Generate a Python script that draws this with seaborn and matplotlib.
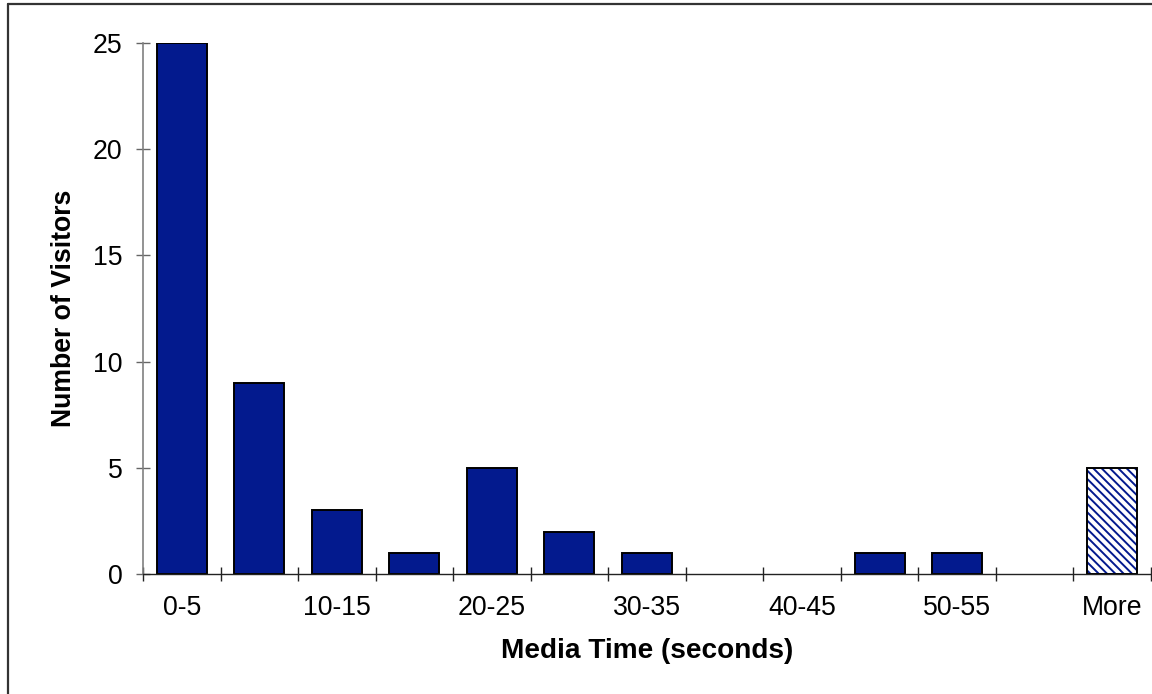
import numpy as np
import matplotlib
matplotlib.use("Agg")
import matplotlib.pyplot as plt
from matplotlib.patches import Rectangle
from matplotlib.lines import Line2D
import seaborn as sns

bins = ['0-5', '5-10', '10-15', '15-20', '20-25', '25-30', '30-35',
        '35-40', '40-45', '45-50', '50-55', '55-60', 'More']
counts = [25, 9, 3, 1, 5, 2, 1, 0, 0, 1, 1, 0, 5]
shown_labels = bins[::2]
yticks = [0, 5, 10, 15, 20, 25]

sns.set_theme(style="white")
plt.rcParams['font.family'] = ['Liberation Sans', 'DejaVu Sans']
plt.rcParams['hatch.linewidth'] = 1.4

NAVY = '#031A8E'
FS = 19.2
W, H = 1152, 694

fig = plt.figure(figsize=(W / 100, H / 100), dpi=100)
fig.patch.set_facecolor('white')
ax = fig.add_axes([143 / W, 120 / H, 1008 / W, 531 / H])

sns.barplot(x=bins, y=counts, color=NAVY, saturation=1, edgecolor='black',
            linewidth=1.4, width=0.645, ax=ax)

bars = ax.patches[:len(bins)]
for b, v in zip(bars, counts):
    if v == 0:
        b.set_linewidth(0)

# hatched "More" bar
p = bars[-1]
p.set_facecolor('white')
p.set_edgecolor(NAVY)
p.set_linewidth(0)
p.set_hatch('\\' * 4)
ax.add_patch(Rectangle((p.get_x(), p.get_y()), p.get_width(), p.get_height(),
                       fill=False, edgecolor='black', linewidth=1.4, zorder=p.get_zorder() + 0.1))

ax.set_xlim(-0.5, len(bins) - 0.5)
ax.set_ylim(0, 25)
ax.set_yticks(yticks)
ax.set_yticklabels([str(v) for v in yticks], fontsize=FS, color='black')
ax.set_xticks(np.arange(0, len(bins), 2))
ax.set_xticklabels(shown_labels, fontsize=FS, color='black')
ax.set_xticks(np.arange(-0.5, len(bins), 1), minor=True)
ax.tick_params(axis='x', which='major', length=0, pad=15, bottom=True)
ax.tick_params(axis='x', which='minor', direction='inout', length=10, width=1,
               color='#222222', bottom=True)
ax.tick_params(axis='y', which='major', direction='inout', length=9.5, width=1,
               color='#666666', pad=10, left=True)

for s in ['top', 'right']:
    ax.spines[s].set_visible(False)
ax.spines['left'].set_color('#808080')
ax.spines['left'].set_linewidth(1.2)
ax.spines['bottom'].set_color('#222222')
ax.spines['bottom'].set_linewidth(1.0)

ax.set_xlabel('Media Time (seconds)', fontsize=20.2, fontweight='bold', color='black')
ax.set_ylabel('Number of Visitors', fontsize=FS, fontweight='bold', color='black')
ax.xaxis.set_label_coords(0.5, -0.12)
ax.yaxis.set_label_coords(-0.065, 0.5)

# chart-area border (left and top edges visible in the reference)
fig.add_artist(Line2D([8 / W, 8 / W], [0, 1 - 4 / H], color='#333333', linewidth=1.6))
fig.add_artist(Line2D([8 / W, 1], [1 - 4 / H, 1 - 4 / H], color='#333333', linewidth=1.6))

fig.savefig('out.png', dpi=100, facecolor='white')
